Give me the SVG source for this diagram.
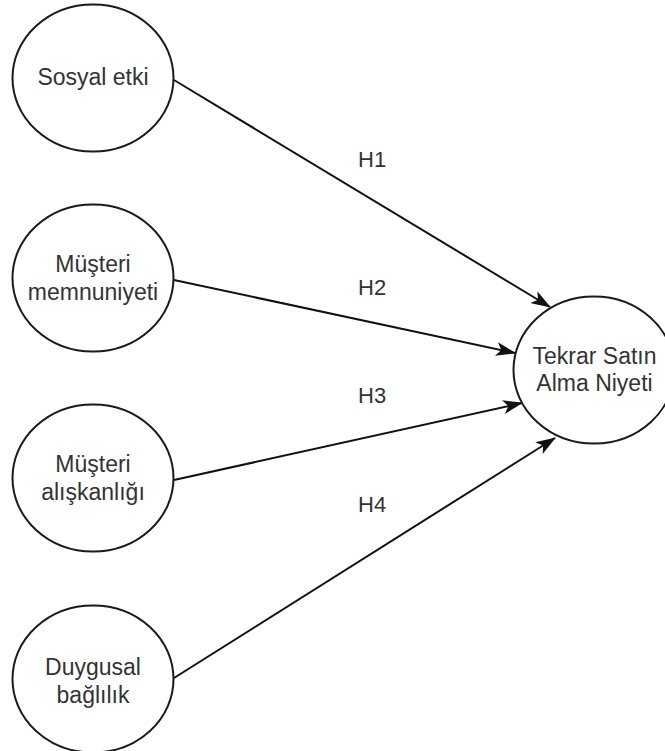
<svg xmlns="http://www.w3.org/2000/svg" width="665" height="751" viewBox="0 0 665 751">
<style>
.node ellipse{fill:#fff;stroke:#1a1a1a;stroke-width:2}
.lbl{font-family:"Liberation Sans",Arial,sans-serif;font-size:23px;fill:#333;text-anchor:middle}
.h{font-family:"Liberation Sans",Arial,sans-serif;font-size:22px;fill:#333}
.edges line{stroke:#111;stroke-width:2}
</style>
<defs>
<marker id="arr" viewBox="0 0 20 14" refX="19" refY="7" markerWidth="20" markerHeight="14" markerUnits="userSpaceOnUse" orient="auto">
<path d="M0,0 L20,7 L0,14 L5,7 Z" fill="#111"/>
</marker>
</defs>
<rect width="665" height="751" fill="#fff"/>
<g class="edges">
<line x1="174" y1="80" x2="550" y2="307" marker-end="url(#arr)"/>
<line x1="174" y1="280" x2="515" y2="353" marker-end="url(#arr)"/>
<line x1="174" y1="480" x2="522" y2="403" marker-end="url(#arr)"/>
<line x1="174" y1="678" x2="555" y2="438" marker-end="url(#arr)"/>
</g>
<g id="n1" class="node"><ellipse cx="93" cy="78" rx="80.5" ry="73.5"/><text class="lbl" x="93" y="85">Sosyal etki</text></g>
<g id="n2" class="node"><ellipse cx="93" cy="278" rx="80.5" ry="73.5"/><text class="lbl" x="93" y="272">Müşteri</text><text class="lbl" x="93" y="300">memnuniyeti</text></g>
<g id="n3" class="node"><ellipse cx="93" cy="478" rx="80.5" ry="73.5"/><text class="lbl" x="93" y="472">Müşteri</text><text class="lbl" x="93" y="500">alışkanlığı</text></g>
<g id="n4" class="node"><ellipse cx="93" cy="679" rx="80.5" ry="73.5"/><text class="lbl" x="93" y="675">Duygusal</text><text class="lbl" x="93" y="703">bağlılık</text></g>
<g id="n5" class="node"><ellipse cx="594" cy="370" rx="80.5" ry="73.5"/><text class="lbl" x="594.5" y="364">Tekrar Satın</text><text class="lbl" x="594.5" y="391">Alma Niyeti</text></g>
<g id="labels">
<text class="h" x="358" y="167">H1</text>
<text class="h" x="358" y="295">H2</text>
<text class="h" x="358" y="403">H3</text>
<text class="h" x="358" y="512">H4</text>
</g>
</svg>
